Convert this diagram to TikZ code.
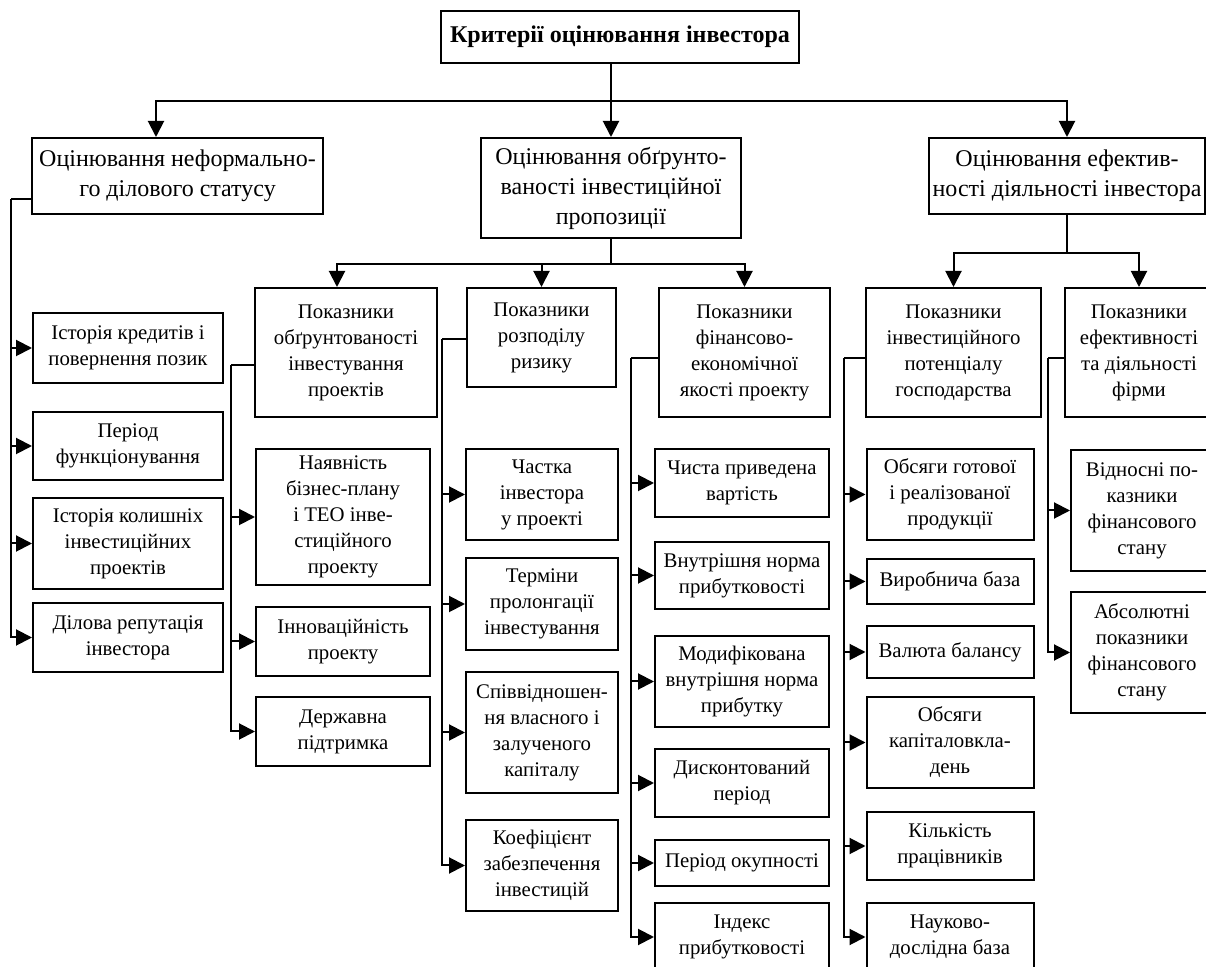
\documentclass[tikz,border=0pt]{standalone}
\usepackage{fontspec}
\setmainfont{Liberation Serif}
\usetikzlibrary{arrows.meta}

\begin{document}
\begin{tikzpicture}[x=0.5pt, y=-0.5pt,
    box/.style={draw, line width=1pt, align=center, inner sep=1pt,
        font=\fontsize{10.4}{13}\selectfont},
    head/.style={box, font=\fontsize{12}{15}\selectfont},
    sz/.style 2 args={minimum width=#1*\px, minimum height=#2*\px},
    link/.style={line width=1pt},
    arr/.style={line width=1pt, -{Triangle[length=8pt, width=8pt]}}]
    \def\px{0.5pt}

    \useasboundingbox (0,0) rectangle (1206,967);
    \clip (0,0) rectangle (1206,967);

    % Title
    \node[box, sz={358}{52}, line width=1.2pt,
        font=\bfseries\fontsize{12}{15}\selectfont]
        (title) at (620,37) {Критерії оцінювання інвестора};

    % Level 1
    \node[head, sz={291}{76}] (inform) at (177.5,176)
        {Оцінювання неформально-\\го ділового статусу};
    \node[head, sz={260}{100}] (valid) at (611,188)
        {Оцінювання обґрунто-\\ваності інвестиційної\\пропозиції};
    \node[head, sz={276}{76}] (effect) at (1067,176)
        {Оцінювання ефектив-\\ності діяльності інвестора};

    % Level 2
    \node[box, sz={182}{129}] (pA) at (346,352.5)
        {Показники\\обґрунтованості\\інвестування\\проектів};
    \node[box, sz={149}{99}] (pB) at (541.5,337.5)
        {Показники\\розподілу\\ризику};
    \node[box, sz={171}{129}] (pC) at (744.5,352.5)
        {Показники\\фінансово-\\економічної\\якості проекту};
    \node[box, sz={175}{129}] (pD) at (953.5,352.5)
        {Показники\\інвестиційного\\потенціалу\\господарства};
    \node[box, sz={148}{129}] (pE) at (1139,352.5)
        {Показники\\ефективності\\та діяльності\\фірми};

    % Column I
    \foreach \n/\y/\h/\t in {
        i1/348/70/{Історія кредитів і\\повернення позик},
        i2/446/68/{Період\\функціонування},
        i3/543.5/91/{Історія колишніх\\інвестиційних\\проектів},
        i4/637.5/69/{Ділова репутація\\інвестора}} {
        \node[box, sz={190}{\h}] (\n) at (128,\y) {\t};
    }

    % Column A
    \foreach \n/\y/\h/\t in {
        a1/517/136/{Наявність\\бізнес-плану\\і ТЕО інве-\\стиційного\\проекту},
        a2/641.5/69/{Інноваційність\\проекту},
        a3/731.5/69/{Державна\\підтримка}} {
        \node[box, sz={174}{\h}] (\n) at (343,\y) {\t};
    }

    % Column B
    \foreach \n/\y/\h/\t in {
        b1/494.5/91/{Частка\\інвестора\\у проекті},
        b2/604/92/{Терміни\\пролонгації\\інвестування},
        b3/732.5/121/{Співвідношен-\\ня власного і\\залученого\\капіталу},
        b4/865.5/91/{Коефіцієнт\\забезпечення\\інвестицій}} {
        \node[box, sz={152}{\h}] (\n) at (542,\y) {\t};
    }

    % Column C
    \foreach \n/\y/\h/\t in {
        c1/483/68/{Чиста приведена\\вартість},
        c2/575.5/67/{Внутрішня норма\\прибутковості},
        c3/681.5/91/{Модифікована\\внутрішня норма\\прибутку},
        c4/783/68/{Дисконтований\\період},
        c5/863/46/{Період окупності},
        c6/937/68/{Індекс\\прибутковості}} {
        \node[box, sz={174}{\h}] (\n) at (742,\y) {\t};
    }

    % Column D
    \foreach \n/\y/\h/\t in {
        d1/494.5/91/{Обсяги готової\\і реалізованої\\продукції},
        d2/581.5/45/{Виробнича база},
        d3/652/52/{Валюта балансу},
        d4/742.5/91/{Обсяги\\капіталовкла-\\день},
        d5/846/68/{Кількість\\працівників},
        d6/937/68/{Науково-\\дослідна база}} {
        \node[box, sz={167}{\h}] (\n) at (950,\y) {\t};
    }

    % Column E
    \foreach \n/\y/\h/\t in {
        e1/510.5/121/{Відносні по-\\казники\\фінансового\\стану},
        e2/652.5/121/{Абсолютні\\показники\\фінансового\\стану}} {
        \node[box, sz={142}{\h}] (\n) at (1142,\y) {\t};
    }

    % Title to level 1
    \draw[link] (title.south -| valid.north) -- ++(0,37) coordinate (j0);
    \draw[arr] (j0) -- (valid.north);
    \draw[arr] (j0) -| ([xshift=-10.75pt]inform.north);
    \draw[arr] (j0) -| (effect.north);

    % Level 1 to level 2
    \draw[link] (valid.south) -- ++(0,25) coordinate (j1);
    \draw[arr] (j1) -| ([xshift=-4.5pt]pA.north);
    \foreach \k in {pB,pC} \draw[arr] (j1) -| (\k.north);
    \draw[link] (effect.south) -- ++(0,38) coordinate (j2);
    \foreach \k in {pD,pE} \draw[arr] (j2) -| (\k.north);

    % Left bus
    \draw[link] (inform.west) ++(0,23) -- ++(-20,0) coordinate (busI);
    \foreach \k in {i1,i2,i3,i4} \draw[arr] (busI) |- (\k.west);

    % Buses of level 2
    \foreach \p/\s/\d/\kids in {
        pA/12.5/23/{a1,a2,a3},
        pB/1.5/24/{b1,b2,b3,b4},
        pC/5.5/27/{c1,c2,c3,c4,c5,c6},
        pD/5.5/21/{d1,d2,d3,d4,d5,d6},
        pE/5.5/16/{e1,e2}} {
        \draw[link] (\p.west) ++(0,\s) -- ++(-\d,0) coordinate (bus\p);
        \foreach \k in \kids \draw[arr] (bus\p) |- (\k.west);
    }
\end{tikzpicture}
\end{document}
